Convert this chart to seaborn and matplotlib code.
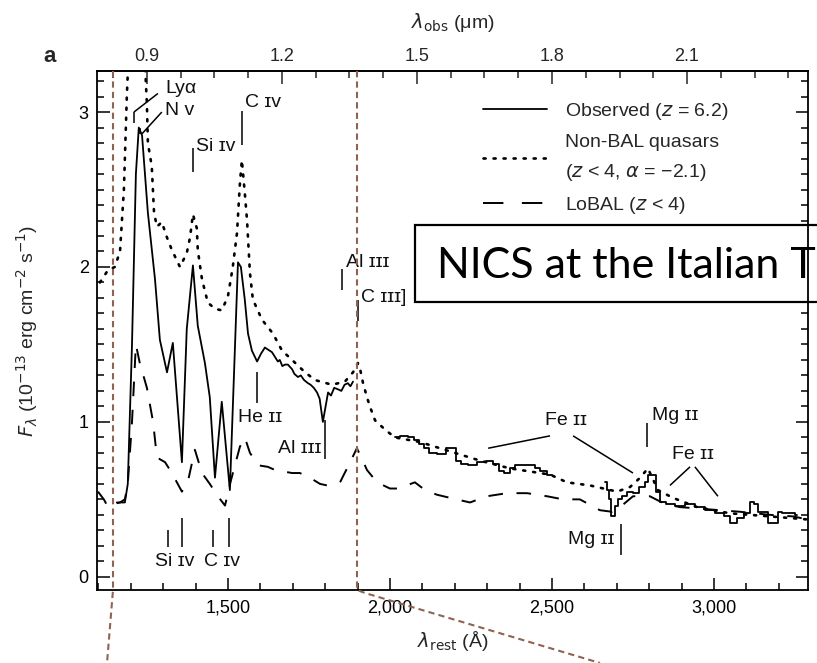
import matplotlib
matplotlib.use("Agg")
import numpy as np
import pandas as pd
import seaborn as sns
import matplotlib.pyplot as plt
from matplotlib.lines import Line2D
from matplotlib.patches import Rectangle
from matplotlib.ticker import MultipleLocator, FixedLocator, FuncFormatter

# ---------------- data ----------------
Z = 6.2

# observed spectrum, J band (smooth part)
obs_j_wave = [1157, 1182, 1191, 1204, 1216, 1225, 1235, 1253, 1275, 1290, 1312, 1330,
              1358, 1373, 1392, 1407, 1429, 1444, 1460, 1481, 1506, 1522, 1531, 1540,
              1552, 1562, 1574, 1590, 1602, 1614, 1636, 1654, 1660, 1668, 1676, 1685,
              1698, 1705, 1716, 1725, 1735, 1747, 1755, 1765, 1775, 1783, 1793, 1809,
              1818, 1828, 1840, 1850, 1860, 1870, 1878, 1886]
obs_j_flux = [0.48, 0.48, 0.60, 1.50, 2.60, 2.90, 2.85, 2.35, 1.92, 1.53, 1.32, 1.51,
              0.74, 1.60, 2.01, 1.62, 1.38, 1.16, 0.64, 1.13, 0.56, 1.50, 2.03, 2.00,
              1.79, 1.57, 1.46, 1.39, 1.44, 1.48, 1.45, 1.39, 1.40, 1.36, 1.37, 1.37,
              1.34, 1.31, 1.29, 1.30, 1.27, 1.25, 1.24, 1.22, 1.19, 1.15, 1.00, 1.19,
              1.17, 1.22, 1.21, 1.20, 1.24, 1.25, 1.23, 1.26]

# observed spectrum, H band (binned)
obs_h_wave = [2015, 2046, 2068, 2083, 2099, 2114, 2130, 2160, 2185, 2201, 2207, 2231,
              2253, 2284, 2309, 2330, 2340, 2361, 2377, 2395, 2438, 2457, 2472, 2500]
obs_h_flux = [0.90, 0.91, 0.90, 0.88, 0.86, 0.83, 0.80, 0.79, 0.83, 0.83, 0.75, 0.73,
              0.72, 0.74, 0.75, 0.73, 0.68, 0.67, 0.70, 0.72, 0.72, 0.70, 0.68, 0.66]

# observed spectrum, K band (binned)
obs_k_wave = [2664, 2673, 2679, 2685, 2691, 2698, 2710, 2725, 2741, 2759, 2778, 2793,
              2799, 2815, 2824, 2840, 2864, 2895, 2926, 2957, 2988, 3019, 3040, 3059,
              3080, 3102, 3117, 3130, 3139, 3161, 3173, 3195, 3201, 3219, 3244, 3256]
obs_k_flux = [0.61, 0.56, 0.50, 0.39, 0.39, 0.46, 0.50, 0.52, 0.55, 0.54, 0.58, 0.61,
              0.66, 0.66, 0.55, 0.48, 0.47, 0.46, 0.47, 0.45, 0.43, 0.41, 0.39, 0.35,
              0.38, 0.41, 0.48, 0.47, 0.42, 0.42, 0.35, 0.35, 0.42, 0.41, 0.41, 0.40]

# non-BAL quasar template
nonbal_wave = [1105, 1130, 1151, 1167, 1179, 1188, 1198, 1216, 1235, 1250, 1253, 1265,
               1272, 1281, 1296, 1312, 1327, 1352, 1373, 1383, 1392, 1404, 1407, 1420,
               1438, 1460, 1481, 1500, 1515, 1528, 1537, 1543, 1552, 1559, 1568, 1577,
               1605, 1639, 1667, 1698, 1738, 1769, 1821, 1861, 1886, 1901, 1907, 1917,
               1929, 1938, 1954, 1985, 2015, 2093, 2185, 2278, 2370, 2494, 2546, 2617,
               2701, 2741, 2772, 2796, 2827, 2873, 2948, 3049, 3173, 3290]
nonbal_flux = [1.90, 1.98, 2.00, 2.10, 2.50, 3.10, 3.60, 4.20, 3.70, 3.05, 2.80, 2.65,
               2.35, 2.26, 2.29, 2.19, 2.11, 2.00, 2.09, 2.19, 2.34, 2.25, 2.11, 1.92,
               1.77, 1.73, 1.72, 1.81, 2.00, 2.22, 2.54, 2.69, 2.48, 2.30, 1.96, 1.79,
               1.66, 1.57, 1.46, 1.40, 1.32, 1.27, 1.24, 1.26, 1.32, 1.38, 1.35, 1.25,
               1.16, 1.10, 1.01, 0.95, 0.90, 0.87, 0.81, 0.75, 0.70, 0.66, 0.61, 0.59,
               0.55, 0.58, 0.64, 0.70, 0.56, 0.51, 0.45, 0.41, 0.39, 0.37]

# LoBAL template
lobal_wave = [1099, 1117, 1130, 1145, 1167, 1182, 1191, 1204, 1216, 1228, 1250, 1269,
              1281, 1306, 1327, 1358, 1377, 1398, 1420, 1444, 1469, 1491, 1509, 1537,
              1552, 1568, 1593, 1623, 1645, 1698, 1722, 1753, 1784, 1806, 1846, 1877,
              1898, 1914, 1929, 1960, 2000, 2025, 2077, 2108, 2145, 2185, 2247, 2299,
              2361, 2423, 2485, 2534, 2586, 2648, 2685, 2710, 2750, 2802, 2849, 2895,
              2957, 3080, 3173, 3244, 3290]
lobal_flux = [0.55, 0.50, 0.45, 0.47, 0.48, 0.50, 0.60, 1.00, 1.50, 1.38, 1.22, 1.00,
              0.77, 0.74, 0.67, 0.55, 0.62, 0.82, 0.67, 0.60, 0.52, 0.46, 0.62, 0.84,
              0.90, 0.80, 0.72, 0.71, 0.69, 0.67, 0.67, 0.64, 0.60, 0.59, 0.61, 0.74,
              0.83, 0.76, 0.69, 0.61, 0.57, 0.57, 0.61, 0.56, 0.53, 0.51, 0.48, 0.52,
              0.54, 0.54, 0.52, 0.50, 0.50, 0.43, 0.42, 0.45, 0.52, 0.52, 0.47, 0.45,
              0.44, 0.42, 0.40, 0.39, 0.37]

legend_labels = ["Observed ($z$ = 6.2)",
                 "Non-BAL quasars\n($z$ < 4, $\\alpha$ = \u22122.1)",
                 "LoBAL ($z$ < 4)"]

bottom_ticks = [1500, 2000, 2500, 3000]
top_ticks = [0.9, 1.2, 1.5, 1.8, 2.1]
y_ticks = [0, 1, 2, 3]

# line identifications: (text, x, y, ha)
line_texts = [
    ("Ly\u03b1", 1306, 3.15, "left"),
    ("N \u1d20", 1306, 3.01, "left"),
    ("Si \u026a\u1d20", 1401, 2.78, "left"),
    ("C \u026a\u1d20", 1552, 3.06, "left"),
    ("Al \u026a\u026a\u026a", 1864, 2.03, "left"),
    ("C \u026a\u026a\u026a]", 1910, 1.80, "left"),
    ("He \u026a\u026a", 1531, 1.03, "left"),
    ("Al \u026a\u026a\u026a", 1787, 0.83, "right"),
    ("Si \u026a\u1d20", 1336, 0.10, "center"),
    ("C \u026a\u1d20", 1481, 0.10, "center"),
    ("Fe \u026a\u026a", 2543, 1.01, "center"),
    ("Mg \u026a\u026a", 2809, 1.04, "left"),
    ("Fe \u026a\u026a", 2935, 0.79, "center"),
    ("Mg \u026a\u026a", 2694, 0.24, "right"),
]
# marker segments: (x0, y0, x1, y1)
line_marks = [
    (1210, 2.93, 1210, 3.00), (1210, 3.00, 1284, 3.12),
    (1228, 2.86, 1228, 2.90), (1235, 2.86, 1296, 3.00),
    (1392, 2.61, 1392, 2.77),
    (1543, 2.79, 1543, 3.01),
    (1852, 1.85, 1852, 1.99),
    (1901, 1.65, 1901, 1.79),
    (1590, 1.12, 1590, 1.32),
    (1799, 0.76, 1799, 1.01),
    (1315, 0.19, 1315, 0.30), (1358, 0.19, 1358, 0.38),
    (1454, 0.19, 1454, 0.30), (1503, 0.19, 1503, 0.38),
    (2303, 0.83, 2494, 0.91), (2565, 0.91, 2750, 0.67),
    (2793, 0.84, 2793, 0.99),
    (2926, 0.71, 2864, 0.59), (2941, 0.71, 3012, 0.52),
    (2713, 0.14, 2713, 0.34),
]

# ---------------- style ----------------
sns.set_theme(style="ticks")
plt.rcParams["font.family"] = ["Liberation Sans", "DejaVu Sans"]
plt.rcParams["mathtext.fontset"] = "dejavusans"

W, H = 817, 663
fig = plt.figure(figsize=(W / 100, H / 100), dpi=100)
fig.patch.set_facecolor("white")
ax = fig.add_axes([97 / W, 73 / H, 711 / W, 519 / H])
ax.set_facecolor("white")

dotted = (0, (0.8, 3.0))
dashed = (0, (7.5, 7.0))

sns.lineplot(x=obs_j_wave, y=obs_j_flux, ax=ax, color="black", lw=1.3,
             sort=False, estimator=None)
sns.lineplot(x=obs_h_wave, y=obs_h_flux, ax=ax, color="black", lw=1.3,
             sort=False, estimator=None, drawstyle="steps-mid")
sns.lineplot(x=obs_k_wave, y=obs_k_flux, ax=ax, color="black", lw=1.3,
             sort=False, estimator=None, drawstyle="steps-mid")
sns.lineplot(x=nonbal_wave, y=nonbal_flux, ax=ax, color="black", lw=1.9,
             linestyle=dotted, dash_capstyle="round", sort=False, estimator=None)
sns.lineplot(x=lobal_wave, y=lobal_flux, ax=ax, color="black", lw=1.4,
             linestyle=dashed, sort=False, estimator=None)

ax.set_xlim(1096, 3290)
ax.set_ylim(-0.085, 3.265)

# annotations
for x0, y0, x1, y1 in line_marks:
    ax.plot([x0, x1], [y0, y1], color="black", lw=1.1, solid_capstyle="butt")
for txt, x, y, ha in line_texts:
    ax.text(x, y, txt, ha=ha, va="center", fontsize=14, color="#111111")

# axes formatting
for s in ax.spines.values():
    s.set_linewidth(1.3)
    s.set_color("black")
ax.xaxis.set_major_locator(FixedLocator(bottom_ticks))
ax.xaxis.set_minor_locator(MultipleLocator(100))
ax.xaxis.set_major_formatter(FuncFormatter(lambda v, p: f"{v:,.0f}"))
ax.yaxis.set_major_locator(FixedLocator(y_ticks))
ax.yaxis.set_minor_locator(MultipleLocator(0.1))
ax.tick_params(which="both", direction="in", right=True, top=False,
               colors="black", labelsize=13, width=1.1)
ax.tick_params(which="major", length=9)
ax.tick_params(which="minor", length=5)
ax.tick_params(axis="x", pad=7)
ax.tick_params(axis="y", pad=6)

sec = ax.secondary_xaxis("top", functions=(lambda r: r * (1 + Z) / 1e4,
                                             lambda o: o * 1e4 / (1 + Z)))
sec.xaxis.set_major_locator(FixedLocator(top_ticks))
sec.xaxis.set_minor_locator(MultipleLocator(0.075))
sec.xaxis.set_major_formatter(FuncFormatter(lambda v, p: f"{v:.1f}"))
sec.tick_params(which="both", direction="in", labelsize=13, width=1.1, pad=4)
sec.tick_params(which="major", length=9)
sec.tick_params(which="minor", length=5)
sec.spines["top"].set_linewidth(1.3)
fig.text(453 / W, 1 - 23 / H, "$\\lambda_{\\rm obs}$ (\u03bcm)", fontsize=14,
         ha="center", va="center")

ax.set_xlabel("$\\lambda_{\\rm rest}$ (\u00c5)", fontsize=14)
ax.xaxis.set_label_coords(0.5, -0.075)
ax.set_ylabel("$F_{\\lambda}$ (10$^{-13}$ erg cm$^{-2}$ s$^{-1}$)", fontsize=14)
ax.yaxis.set_label_coords(-0.08, 0.5)

# legend
handles = [Line2D([], [], color="black", lw=1.3),
           Line2D([], [], color="black", lw=1.9, linestyle=dotted, dash_capstyle="round"),
           Line2D([], [], color="black", lw=1.4, linestyle=(0, (10.5, 9.5)))]
leg = ax.legend(handles, legend_labels, loc="upper left", bbox_to_anchor=(0.543, 0.942),
                frameon=False, fontsize=14, handlelength=3.3, handletextpad=0.9,
                labelspacing=0.62, borderpad=0, borderaxespad=0)
for t in leg.get_texts():
    t.set_linespacing(1.7)

fig.text(50 / W, 1 - 57 / H, "a", fontsize=16, fontweight="bold", ha="center", va="center")

# presentation overlay: brown dashed guide lines
guide_col = "#8f6352"
gl = dict(color=guide_col, lw=1.5, linestyle=(0, (3.0, 2.0)), zorder=5)
fig.add_artist(Line2D([113 / W, 113 / W, 107 / W], [1 - 71 / H, 1 - 590 / H, 0.0], **gl))
fig.add_artist(Line2D([357 / W, 357 / W, 365 / W, 600 / W],
                      [1 - 71 / H, 1 - 590 / H, 1 - 593 / H, 0.0], **gl))

# presentation overlay: text box
rect = Rectangle((415 / W, 1 - 302 / H), 420 / W, 77 / H, transform=fig.transFigure,
                 facecolor="white", edgecolor="black", lw=1.6, clip_on=False, zorder=2.2)
ax.add_patch(rect)
ax.text(437 / W, 1 - 278 / H, "NICS at the Italian T", transform=fig.transFigure,
        fontsize=31, family=["Lato", "DejaVu Sans"], ha="left", va="baseline",
        color="black", clip_on=False, zorder=2.3)

fig.savefig("out.png", dpi=100)
